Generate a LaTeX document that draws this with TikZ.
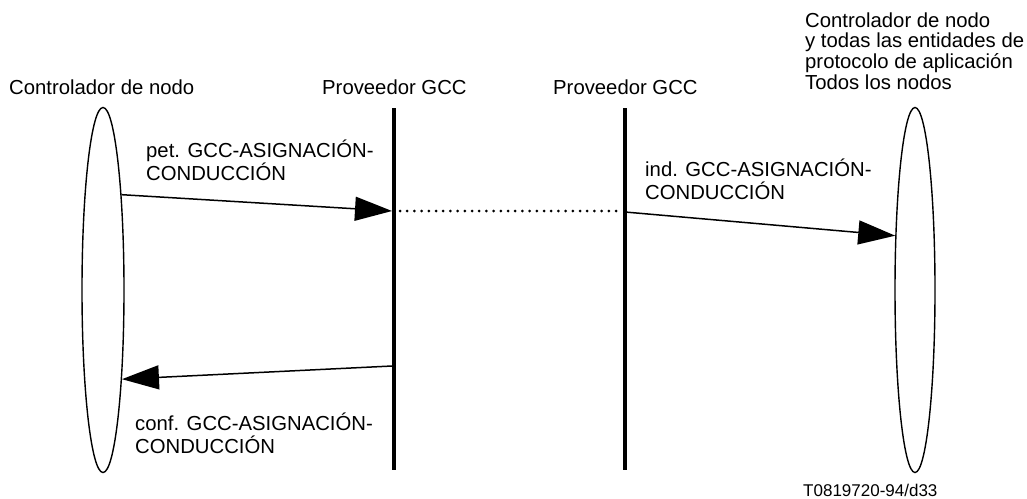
\documentclass[tikz,border=0pt]{standalone}
\usepackage{fontspec}
\setmainfont{Liberation Sans}
\usetikzlibrary{shapes.geometric,arrows.meta}
\tikzset{
  lbl/.style={inner sep=0pt, anchor=base west, font=\fontsize{20.3}{20.5}\selectfont},
  small/.style={inner sep=0pt, anchor=base west, font=\fontsize{17}{20}\selectfont},
  actor/.style={draw, ellipse, line width=1.4pt, inner sep=0pt, minimum width=42pt, minimum height=365pt},
  lifeline/.style={line width=4.6pt},
  msg/.style={line width=1.5pt, -{Triangle[length=37pt,width=24pt]}},
  dots/.style={line width=3pt, line cap=round, dash pattern=on 0pt off 7.2pt}
}
\newcommand{\ml}[1]{\begin{tabular}[t]{@{}l@{}}#1\end{tabular}}
\begin{document}
\begin{tikzpicture}[x=1pt,y=-1pt]
\useasboundingbox (0,0) rectangle (1027,498);
% actors
\node[actor] (L) at (103,290) {};
\node[actor, minimum width=40pt] (R) at (915,290) {};
% headers
\node[lbl] (hL) at (9,94) {Controlador de nodo};
\node[lbl] (hG1) at (322,94) {Proveedor GCC};
\node[lbl] (hG2) at (553,94) {Proveedor GCC};
\node[lbl] (hR) at (805,27) {\ml{Controlador de nodo\\y todas las entidades de\\protocolo de aplicación\\Todos los nodos}};
% lifelines
\coordinate (g1top) at (394,108);
\coordinate (g1bot) at (394,470);
\coordinate (g2top) at (625,108);
\coordinate (g2bot) at (625,470);
\draw[lifeline] (g1top) -- (g1bot);
\draw[lifeline] (g2top) -- (g2bot);
\coordinate (g1a) at (392,211);
\coordinate (g1b) at (392,366);
\coordinate (g2a) at (625,212);
\coordinate (d1) at (400,211);
\coordinate (d2) at (620,211);
% messages
\draw[msg] (L.79.6) -- (g1a);
\draw[dots] (d1) -- (d2);
\draw[msg] (g2a) -- (R.110);
\draw[msg] (g1b) -- (L.-78.8);
% labels
\node[lbl] (m1) at (146,157) {\ml{pet. GCC-ASIGNACIÓN-\\CONDUCCIÓN}};
\node[lbl] (m2) at (645,176) {\ml{ind. GCC-ASIGNACIÓN-\\CONDUCCIÓN}};
\node[lbl] (m3) at (135,430) {\ml{conf. GCC-ASIGNACIÓN-\\CONDUCCIÓN}};
\node[small] (ft) at (803,496) {T0819720-94/d33};
\end{tikzpicture}
\end{document}
